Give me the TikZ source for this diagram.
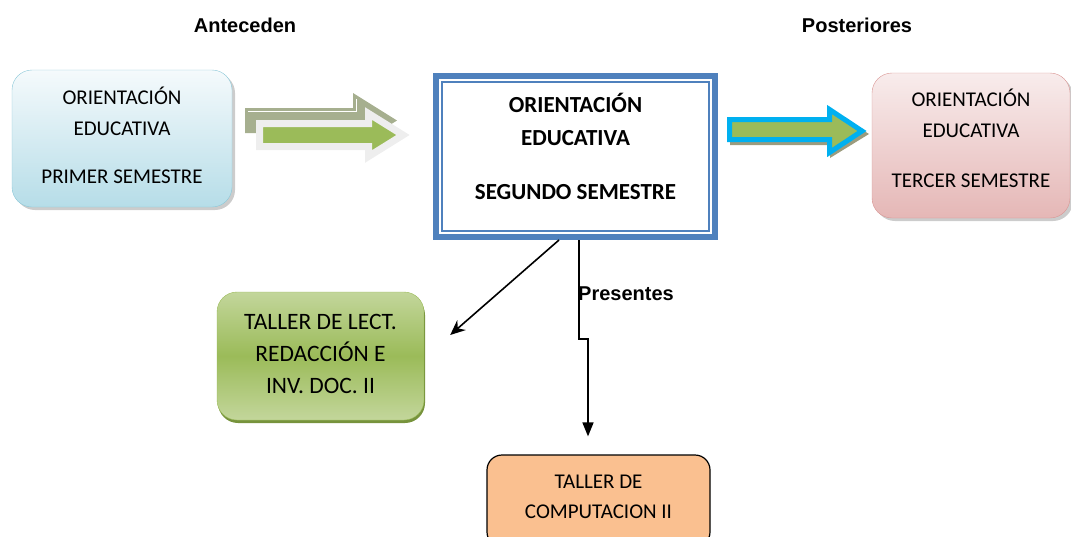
\documentclass[tikz,border=0pt]{standalone}
\usepackage{fontspec}
\setmainfont{Carlito}
\newfontfamily\arialfont{Liberation Sans}
\usetikzlibrary{arrows.meta,shadows}

\definecolor{boxblue}{HTML}{4F81BD}
\definecolor{ltblue}{HTML}{F5FAFC}
\definecolor{blue2}{HTML}{B6DDE8}
\definecolor{blueline}{HTML}{8CC8D8}
\definecolor{ltpink}{HTML}{F8ECEC}
\definecolor{pink2}{HTML}{E5B7B6}
\definecolor{pinkline}{HTML}{D99694}
\definecolor{ltgreen}{HTML}{C3D69B}
\definecolor{olivegreen}{HTML}{9BBB59}
\definecolor{darkgreen}{HTML}{77933C}
\definecolor{backgray}{HTML}{A6AF8F}
\definecolor{glowgray}{HTML}{EEEEEE}
\definecolor{cyanline}{HTML}{00B0F0}
\definecolor{arrowshade}{HTML}{9C9C7E}
\definecolor{orangefill}{HTML}{FAC090}

\tikzstyle{heading} = [font=\arialfont\bfseries\fontsize{20}{24}\selectfont]
\tikzstyle{semestre} = [draw, rounded corners=20pt, align=center, font=\fontsize{21}{31}\selectfont]
\tikzstyle{conn} = [line width=1.6pt, line join=miter, -{Stealth[length=15pt,width=13pt]}]

\begin{document}
\begin{tikzpicture}[x=1pt,y=-1pt]
  \useasboundingbox (0,0) rectangle (1071,536);
  \node[heading] (ant) at (245,25) {Anteceden};
  \node[heading] (post) at (857,25) {Posteriores};

  \node[semestre, draw=blueline, top color=ltblue, bottom color=blue2, minimum width=220pt, minimum height=137pt,
        text depth=6pt, drop shadow={shadow xshift=3pt, shadow yshift=-3pt, opacity=.4}] (prim) at (122,138.5)
        {ORIENTACIÓN\\EDUCATIVA\\[17pt]PRIMER SEMESTRE};
  \node[draw=boxblue, line width=6pt, fill=white, minimum width=279pt, minimum height=161pt, align=center,
        font=\fontsize{23}{33}\selectfont\bfseries, text depth=21pt] (seg) at (575.5,156.5)
        {ORIENTACIÓN\\EDUCATIVA\\[21pt]SEGUNDO SEMESTRE};
  \draw[boxblue, line width=1.5pt] ([xshift=9pt,yshift=-9pt]seg.north west) rectangle ([xshift=-9pt,yshift=9pt]seg.south east);
  \node[semestre, draw=pinkline, top color=ltpink, bottom color=pink2, minimum width=198pt, minimum height=145pt,
        text depth=14pt, drop shadow={shadow xshift=3pt, shadow yshift=-3pt, opacity=.4}] (terc) at (971,145.5)
        {ORIENTACIÓN\\EDUCATIVA\\[19pt]TERCER SEMESTRE};

  % block arrows
  \fill[backgray] (245,108) -- (353,108) -- (353,93) -- (397,120.5) -- (353,148) -- (353,133) -- (245,133) -- cycle;
  \draw[white, line width=0.8pt] (248,111) -- (356,111) -- (356,99);
  \draw[fill=olivegreen, draw=glowgray, line width=7pt, line join=miter]
    (259.5,123.5) -- (368.5,123.5) -- (368.5,113.5) -- (403,135) -- (368.5,156.5) -- (368.5,146.5) -- (259.5,146.5) -- cycle;
  \fill[arrowshade, shift={(3,3)}]
    (727,117) -- (827,117) -- (827,107) -- (866,131) -- (827,155) -- (827,142) -- (727,142) -- cycle;
  \draw[fill=olivegreen, draw=cyanline, line width=5pt, line join=miter]
    (729.5,119.5) -- (829.5,119.5) -- (829.5,109.5) -- (862,131) -- (829.5,152.5) -- (829.5,139.5) -- (729.5,139.5) -- cycle;

  \node[semestre, draw=olivegreen, top color=ltgreen, bottom color=ltgreen, middle color=olivegreen,
        minimum width=207pt, minimum height=128pt, font=\fontsize{23.5}{32}\selectfont, text depth=5pt,
        drop shadow={shadow xshift=1pt, shadow yshift=-3pt, fill=darkgreen, opacity=1}] (lect) at (320.5,356)
        {TALLER DE LECT.\\REDACCIÓN E\\INV. DOC. II};
  \node[draw=black, line width=1.2pt, fill=orangefill, rounded corners=15pt, minimum width=223pt, minimum height=92pt,
        align=center, font=\fontsize{21}{30}\selectfont, text depth=8.5pt] (comp) at (598.5,501)
        {TALLER DE\\COMPUTACION II};

  % connectors
  \draw[conn] ([xshift=-16.5pt]seg.south) -- ([xshift=26pt,yshift=21pt]lect.east);
  \draw[conn, -{Triangle[length=14pt,width=11pt]}] ([xshift=3.5pt]seg.south) -- ++(0,99) -- ++(9,0)
    -- ([xshift=-10.5pt,yshift=18pt]comp.north);
  \node[heading, anchor=west, inner sep=0pt] (pres) at (578,294) {Presentes};
\end{tikzpicture}
\end{document}
